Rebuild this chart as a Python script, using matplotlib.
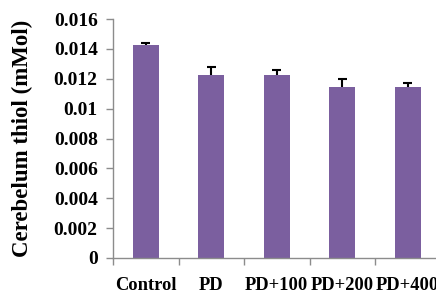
#!/usr/bin/env python3
"""Cerebelum thiol bar chart with upper error bars."""

import matplotlib
matplotlib.use("Agg")
import matplotlib.pyplot as plt
import numpy as np

GROUPS = ["Control", "PD", "PD+100", "PD+200", "PD+400"]
THIOL = [0.01426, 0.01222, 0.01222, 0.01145, 0.01145]
THIOL_ERR = [0.00014, 0.00060, 0.00035, 0.00050, 0.00025]
Y_TICKS = [0, 0.002, 0.004, 0.006, 0.008, 0.01, 0.012, 0.014, 0.016]
Y_TICK_LABELS = ["0", "0.002", "0.004", "0.006", "0.008", "0.01", "0.012", "0.014", "0.016"]

BAR_COLOR = "#7b5f9f"
AXIS_COLOR = "#8c8c8c"
FONT = "Liberation Serif"

W, H = 436, 295
fig = plt.figure(figsize=(W / 100, H / 100), dpi=100)
# axes runs a little past the right edge, as in the original crop
ax = fig.add_axes([113 / W, (H - 258) / H, 327.5 / W, (258 - 19) / H])

x = np.arange(len(GROUPS))
ax.bar(x, THIOL, width=0.4, color=BAR_COLOR, zorder=2)

# only the upper half of each error bar, starting at the bar top
tops = np.array(THIOL) + np.array(THIOL_ERR)
cap = 0.072
ax.vlines(x, THIOL, tops, color="black", linewidth=1.5, zorder=3)
ax.hlines(tops, x - cap, x + cap, color="black", linewidth=1.5, zorder=3)

ax.set_xlim(-0.5, len(GROUPS) - 0.5)
ax.set_ylim(0, 0.016)
ax.set_yticks(Y_TICKS)
ax.set_yticklabels(Y_TICK_LABELS, fontfamily=FONT, fontweight="bold", fontsize=14)
ax.set_xticks(x)
ax.set_xticklabels(GROUPS, fontfamily=FONT, fontweight="bold", fontsize=13.3)
ax.set_xticks(np.arange(-0.5, len(GROUPS)), minor=True)
ax.tick_params(axis="x", which="major", length=0, pad=14)
ax.tick_params(axis="x", which="minor", length=5, color=AXIS_COLOR, width=1)
ax.tick_params(axis="y", length=5, color=AXIS_COLOR, width=1, pad=6)

for side in ("top", "right"):
    ax.spines[side].set_visible(False)
for side in ("left", "bottom"):
    ax.spines[side].set_color(AXIS_COLOR)
    ax.spines[side].set_linewidth(1)

ax.set_ylabel("Cerebelum thiol (mMol)", fontfamily=FONT, fontweight="bold",
              fontsize=16.5)
ax.yaxis.set_label_coords(-80 / 327.5, 0.5)

fig.savefig("out.png", dpi=100)
